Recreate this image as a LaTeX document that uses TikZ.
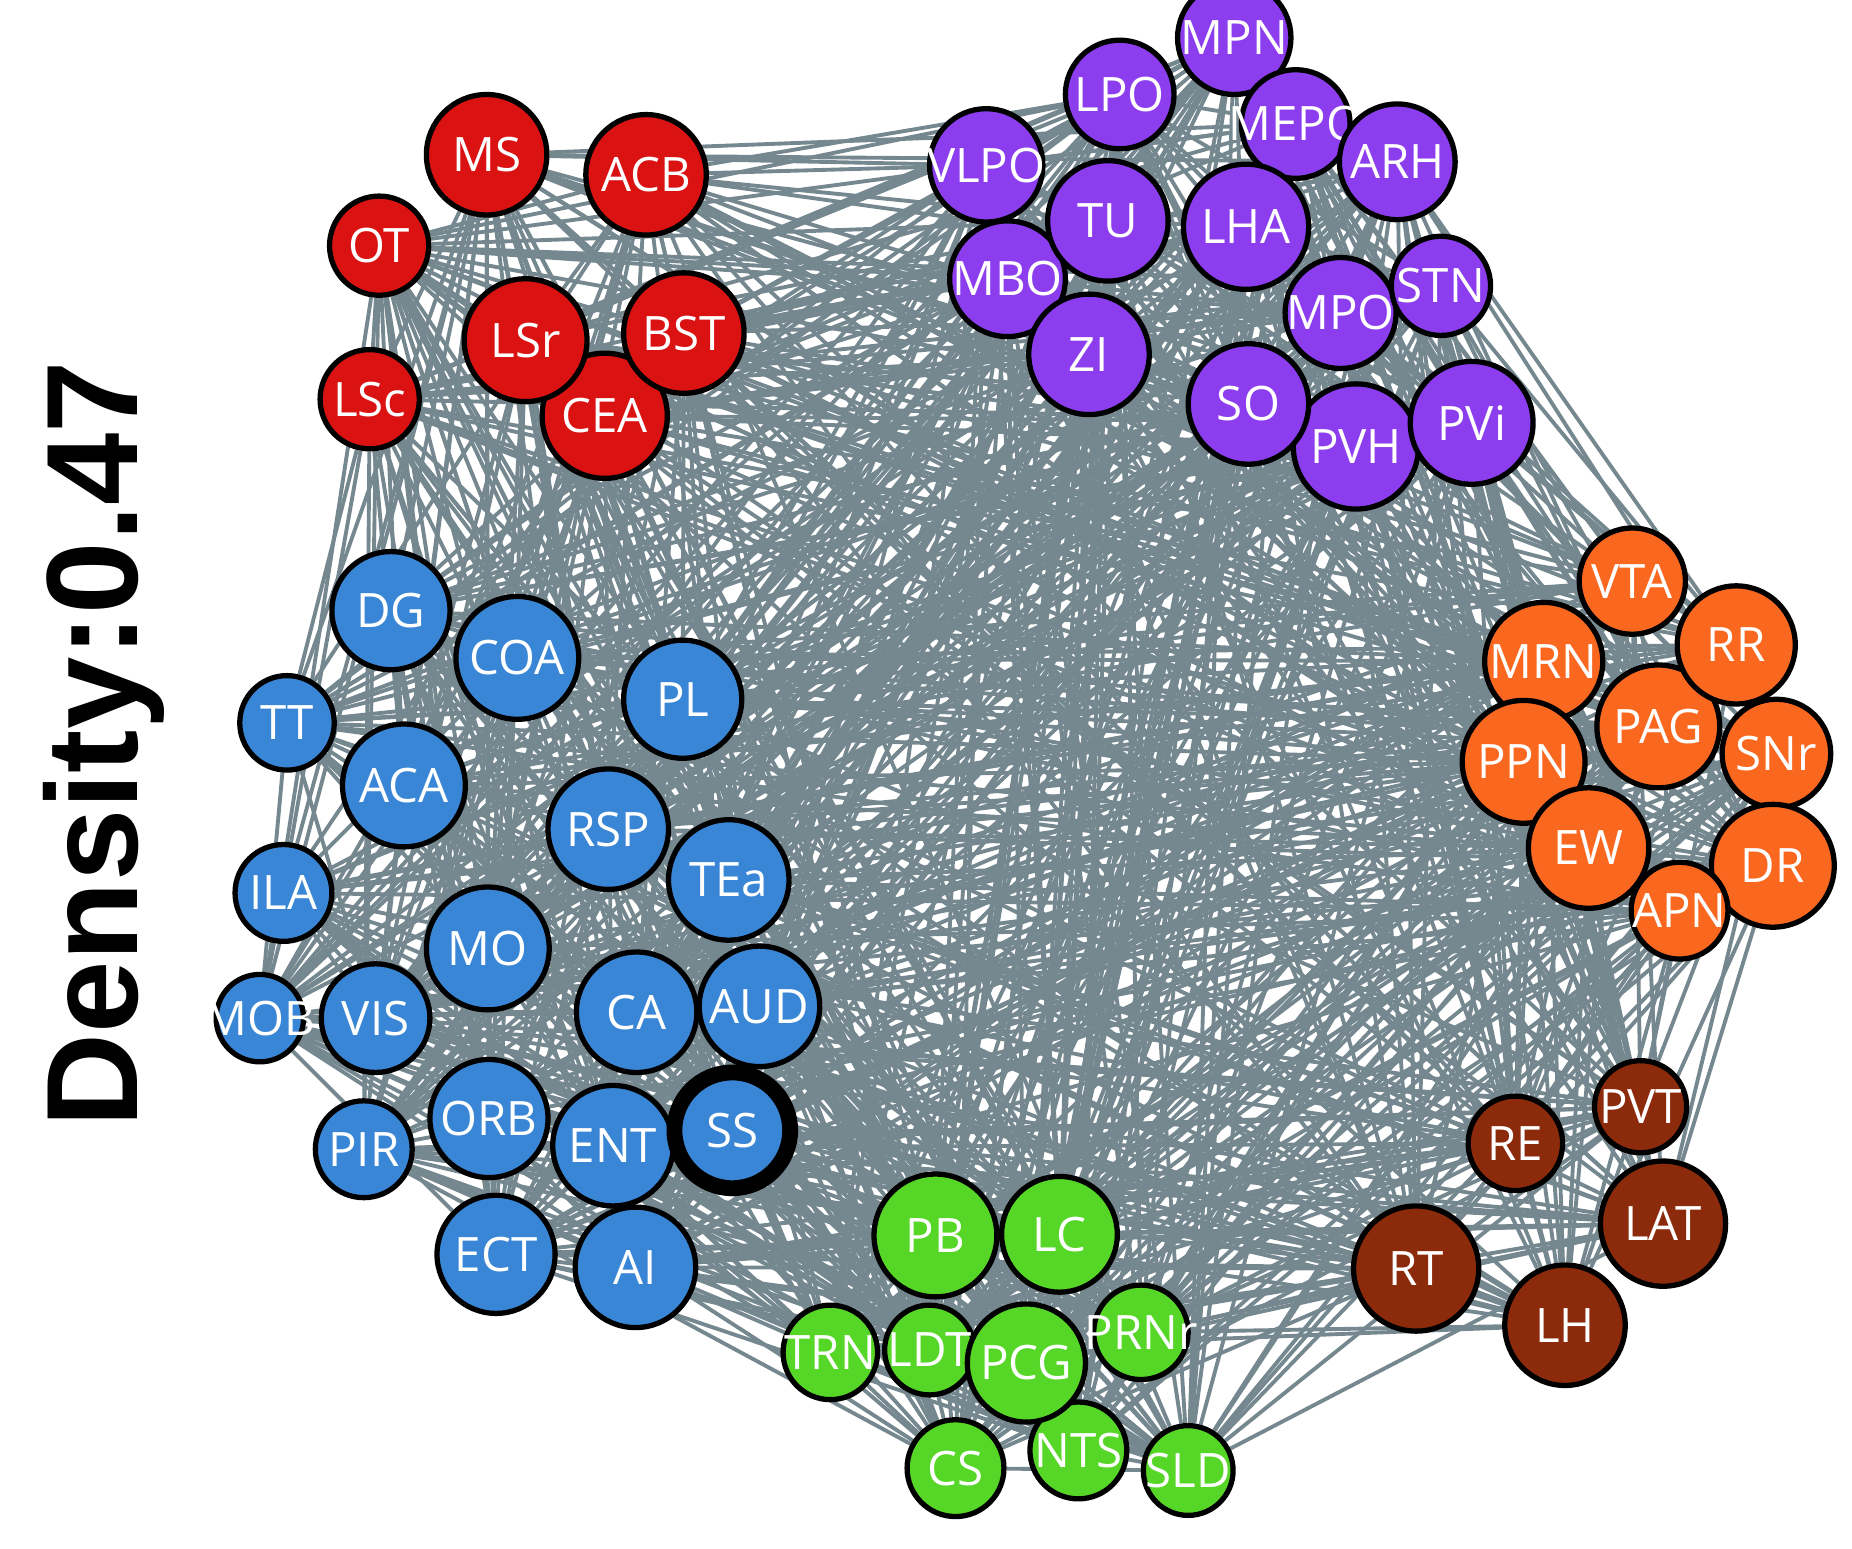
\documentclass[tikz,border=0pt]{standalone}
\usepackage{fontspec}
\newfontfamily\nodefont{Open Sans}
\newfontfamily\titlefont{Liberation Sans}
\usetikzlibrary{backgrounds}
\definecolor{cred}{RGB}{218,18,18}
\definecolor{cpur}{RGB}{140,62,238}
\definecolor{corg}{RGB}{250,104,32}
\definecolor{cbrn}{RGB}{140,42,12}
\definecolor{cgrn}{RGB}{86,214,38}
\definecolor{cblu}{RGB}{58,134,214}
\definecolor{edgec}{RGB}{118,136,143}
\newcommand\allnodes{CEA,LSr,BST,MS,ACB,OT,LSc,MPN,LPO,MEPO,ARH,VLPO,MBO,TU,LHA,MPO,STN,ZI,PVH,SO,PVi,VTA,MRN,PAG,RR,PPN,SNr,EW,DR,APN,PVT,RE,LAT,RT,LH,PB,LC,TRN,LDT,NTS,PCG,PRNr,CS,SLD,DG,COA,PL,TT,ACA,RSP,TEa,ILA,MO,MOB,VIS,CA,AUD,ENT,ORB,PIR,SS,ECT,AI}
\begin{document}
\begin{tikzpicture}[x=0.011811cm, y=-0.011811cm,
  nd/.style={circle, draw=black, line width=1.5pt, inner sep=0pt,
    minimum size={#1*0.023622cm}, text=white,
    font=\nodefont\fontsize{13.5}{14}\selectfont,
    execute at begin node={\hbox to 0pt\bgroup\hss},
    execute at end node={\hss\egroup}},
  lnk/.style={draw=edgec, line width=1.1pt}]
\useasboundingbox (0,0) rectangle (1568,1311);
% title
\node[rotate=90, anchor=base west, inner sep=0pt,
  font=\titlefont\bfseries\fontsize{37}{40}\selectfont] (dens) at (116,955) {Density:0.47};
% red
\node[nd=53, fill=cred] (CEA) at (512,352) {CEA};
\node[nd=52, fill=cred] (LSr) at (445,288) {LSr};
\node[nd=51, fill=cred] (BST) at (579,282) {BST};
\node[nd=51, fill=cred] (MS) at (412,131) {MS};
\node[nd=51, fill=cred] (ACB) at (547,148) {ACB};
\node[nd=42, fill=cred] (OT) at (321,208) {OT};
\node[nd=42, fill=cred] (LSc) at (313,338) {LSc};
% purple
\node[nd=46, fill=cpur] (LPO) at (948,80) {LPO};
\node[nd=48, fill=cpur] (MPN) at (1045,32) {MPN};
\node[nd=46, fill=cpur] (MEPO) at (1097,105) {MEPO};
\node[nd=49, fill=cpur] (ARH) at (1183,137) {ARH};
\node[nd=48, fill=cpur] (VLPO) at (835,140) {VLPO};
\node[nd=49, fill=cpur] (MBO) at (853,236) {MBO};
\node[nd=51, fill=cpur] (TU) at (938,187) {TU};
\node[nd=53, fill=cpur] (LHA) at (1055,192) {LHA};
\node[nd=47, fill=cpur] (MPO) at (1135,265) {MPO};
\node[nd=42, fill=cpur] (STN) at (1220,242) {STN};
\node[nd=51, fill=cpur] (ZI) at (922,300) {ZI};
\node[nd=53, fill=cpur] (PVH) at (1148,378) {PVH};
\node[nd=51, fill=cpur] (SO) at (1057,342) {SO};
\node[nd=52, fill=cpur] (PVi) at (1246,358) {PVi};
% orange
\node[nd=45, fill=corg] (VTA) at (1382,492) {VTA};
\node[nd=50, fill=corg] (MRN) at (1307,560) {MRN};
\node[nd=52, fill=corg] (PAG) at (1404,615) {PAG};
\node[nd=50, fill=corg] (RR) at (1470,546) {RR};
\node[nd=52, fill=corg] (PPN) at (1290,645) {PPN};
\node[nd=46, fill=corg] (SNr) at (1504,638) {SNr};
\node[nd=51, fill=corg] (EW) at (1345,718) {EW};
\node[nd=52, fill=corg] (DR) at (1501,733) {DR};
\node[nd=41, fill=corg] (APN) at (1422,771) {APN};
% brown
\node[nd=39, fill=cbrn] (PVT) at (1389,937) {PVT};
\node[nd=40, fill=cbrn] (RE) at (1283,968) {RE};
\node[nd=53, fill=cbrn] (LAT) at (1408,1036) {LAT};
\node[nd=53, fill=cbrn] (RT) at (1199,1074) {RT};
\node[nd=51, fill=cbrn] (LH) at (1325,1122) {LH};
% green
\node[nd=52, fill=cgrn] (PB) at (792,1046) {PB};
\node[nd=49, fill=cgrn] (LC) at (897,1045) {LC};
\node[nd=40, fill=cgrn] (TRN) at (703,1145) {TRN};
\node[nd=38, fill=cgrn] (LDT) at (787,1143) {LDT};
\node[nd=41, fill=cgrn] (NTS) at (913,1228) {NTS};
\node[nd=50, fill=cgrn] (PCG) at (869,1154) {PCG};
\node[nd=40, fill=cgrn] (PRNr) at (966,1128) {PRNr};
\node[nd=41, fill=cgrn] (CS) at (809,1243) {CS};
\node[nd=38, fill=cgrn] (SLD) at (1006,1245) {SLD};
% blue
\node[nd=50, fill=cblu] (DG) at (331,517) {DG};
\node[nd=52, fill=cblu] (COA) at (438,557) {COA};
\node[nd=50, fill=cblu] (PL) at (578,592) {PL};
\node[nd=40, fill=cblu] (TT) at (243,612) {TT};
\node[nd=52, fill=cblu] (ACA) at (342,665) {ACA};
\node[nd=51, fill=cblu] (RSP) at (515,702) {RSP};
\node[nd=51, fill=cblu] (TEa) at (617,745) {TEa};
\node[nd=41, fill=cblu] (ILA) at (240,756) {ILA};
\node[nd=52, fill=cblu] (MO) at (413,803) {MO};
\node[nd=37, fill=cblu] (MOB) at (220,862) {MOB};
\node[nd=46, fill=cblu] (VIS) at (318,862) {VIS};
\node[nd=51, fill=cblu] (CA) at (539,857) {CA};
\node[nd=51, fill=cblu] (AUD) at (643,852) {AUD};
\node[nd=51, fill=cblu] (ENT) at (519,970) {ENT};
\node[nd=50, fill=cblu] (ORB) at (414,947) {ORB};
\node[nd=41, fill=cblu] (PIR) at (308,973) {PIR};
\node[nd=49, fill=cblu, line width=4.5pt] (SS) at (620,957) {SS};
\node[nd=50, fill=cblu] (ECT) at (420,1062) {ECT};
\node[nd=51, fill=cblu] (AI) at (538,1073) {AI};
% edges
\pgfmathsetseed{4711}
\begin{pgfonlayer}{background}
\foreach \a [count=\i] in \allnodes {
  \foreach \b [count=\j] in \allnodes {
    \ifnum\j>\i
      \pgfmathrandominteger{\r}{1}{100}
      \ifnum\r<48 \draw[lnk] (\a) -- (\b); \fi
    \fi
  }
}
\end{pgfonlayer}
\end{tikzpicture}
\end{document}
